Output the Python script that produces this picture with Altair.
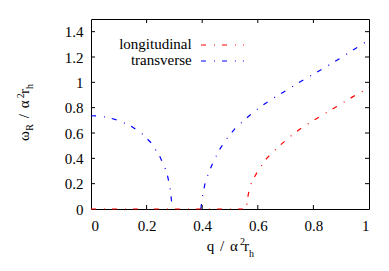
import altair as alt
import pandas as pd

FONT = "Liberation Serif"

# transverse branch 1
q_t1 = [0.0, 0.02, 0.04, 0.062, 0.098, 0.141, 0.182, 0.218, 0.248, 0.272, 0.284, 0.29, 0.291]
w_t1 = [0.736, 0.735, 0.73, 0.722, 0.70, 0.659, 0.598, 0.519, 0.413, 0.294, 0.175, 0.056, 0.0]
# transverse branch 2
q_t2 = [0.395, 0.398, 0.402, 0.41, 0.422, 0.44, 0.464, 0.488, 0.518, 0.566, 0.608, 0.656,
        0.716, 0.776, 0.836, 0.896, 0.95, 1.0]
w_t2 = [0.0, 0.05, 0.11, 0.20, 0.28, 0.373, 0.475, 0.555, 0.635, 0.73, 0.805, 0.875,
        0.955, 1.035, 1.11, 1.19, 1.265, 1.335]
# longitudinal
q_l = [0.0, 0.56, 0.561, 0.566, 0.578, 0.602, 0.632, 0.674, 0.716, 0.764, 0.824, 0.884, 0.944, 1.0]
w_l = [0.0, 0.0, 0.04, 0.12, 0.214, 0.307, 0.40, 0.492, 0.571, 0.651, 0.73, 0.81, 0.889, 0.958]

x_tick_vals = [0, 0.2, 0.4, 0.6, 0.8, 1]
y_tick_vals = [0, 0.2, 0.4, 0.6, 0.8, 1, 1.2, 1.4]
x_inner_ticks = [0.2, 0.4, 0.6, 0.8]
y_inner_ticks = [0.2, 0.4, 0.6, 0.8, 1, 1.2, 1.4]

W, H = 278, 190
DASH = [5, 8, 1, 7]

df_t = pd.DataFrame({
    "q": q_t1 + q_t2,
    "w": w_t1 + w_t2,
    "branch": ["a"] * len(q_t1) + ["b"] * len(q_t2),
})
df_l = pd.DataFrame({"q": q_l, "w": w_l})

xs = alt.Scale(domain=[0, 1], nice=False, zero=False)
ys = alt.Scale(domain=[0, 1.5], nice=False, zero=False)

x_axis = alt.Axis(values=x_tick_vals, format="~g", labelPadding=9, labelOverlap=False)
y_axis = alt.Axis(values=y_tick_vals, format="~g", labelPadding=8, labelOverlap=False)

blue = alt.Chart(df_t).mark_line(color="#0000ff", strokeDash=DASH, strokeWidth=1.2).encode(
    x=alt.X("q:Q", scale=xs, axis=x_axis, title=None),
    y=alt.Y("w:Q", scale=ys, axis=y_axis, title=None),
    detail="branch:N",
)
red = alt.Chart(df_l).mark_line(color="#ff0000", strokeDash=DASH, strokeWidth=1.2).encode(
    x=alt.X("q:Q", scale=xs, axis=x_axis, title=None),
    y=alt.Y("w:Q", scale=ys, axis=y_axis, title=None),
)

xt = pd.DataFrame({"v": x_inner_ticks})
yt = pd.DataFrame({"v": y_inner_ticks})
TL = 4
tick_layers = [
    alt.Chart(xt).mark_rule(color="black", strokeWidth=1).encode(
        x=alt.X("v:Q", scale=xs, axis=x_axis, title=None), y=alt.value(H), y2=alt.value(H - TL)),
    alt.Chart(xt).mark_rule(color="black", strokeWidth=1).encode(
        x=alt.X("v:Q", scale=xs, axis=x_axis, title=None), y=alt.value(0), y2=alt.value(TL)),
    alt.Chart(yt).mark_rule(color="black", strokeWidth=1).encode(
        y=alt.Y("v:Q", scale=ys, axis=y_axis, title=None), x=alt.value(0), x2=alt.value(TL)),
    alt.Chart(yt).mark_rule(color="black", strokeWidth=1).encode(
        y=alt.Y("v:Q", scale=ys, axis=y_axis, title=None), x=alt.value(W), x2=alt.value(W - TL)),
]

dummy = pd.DataFrame({"a": [0]})


def txt(s, x, y, size=15, angle=0, align="left"):
    return alt.Chart(dummy).mark_text(
        text=s, font=FONT, fontSize=size, angle=angle, align=align,
        baseline="alphabetic", color="black",
    ).encode(x=alt.value(x), y=alt.value(y))


# legend
legend_layers = [
    txt("longitudinal", 100.7, 30, align="right"),
    txt("transverse", 100.7, 46, align="right"),
    alt.Chart(dummy).mark_rule(color="#ff0000", strokeDash=DASH, strokeWidth=1.2).encode(
        x=alt.value(110), x2=alt.value(153), y=alt.value(26)),
    alt.Chart(dummy).mark_rule(color="#0000ff", strokeDash=DASH, strokeWidth=1.2).encode(
        x=alt.value(110), x2=alt.value(153), y=alt.value(42)),
]

# x title: q / α^2 r_h
xtitle = [
    txt("q", 115.7, 232),
    txt("/", 129, 232),
    txt("α", 139, 232),
    txt("2", 149, 226, size=10),
    txt("r", 153, 232),
    txt("h", 158, 237.5, size=10),
]

# y title: ω_R / α^2 r_h (rotated)
XM, XS, XP = -62.5, -58, -67.5
ytitle = [
    txt("ω", XM, 122, angle=270),
    txt("R", XS, 111.7, size=10, angle=270),
    txt("/", XM, 99.2, angle=270),
    txt("α", XM, 89.2, angle=270),
    txt("2", XP, 79.2, size=10, angle=270),
    txt("r", XM, 74.9, angle=270),
    txt("h", XS, 69.9, size=10, angle=270),
]

chart = alt.layer(blue, red, *tick_layers, *legend_layers, *xtitle, *ytitle).properties(
    width=W, height=H,
    autosize=alt.AutoSizeParams(type="none"),
    padding={"left": 83, "top": 11, "right": 12, "bottom": 54},
).configure_view(
    stroke="black", strokeWidth=1,
).configure_axis(
    labelFont=FONT, labelFontSize=15, labelColor="black", labelOverlap=False,
    ticks=False, domain=False, grid=False,
)

chart.save("out.html", embed_options={"renderer": "svg", "actions": False})
